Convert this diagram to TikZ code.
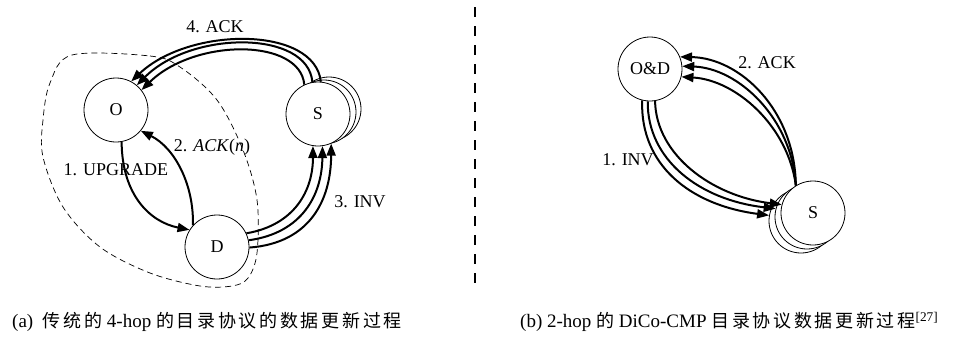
\documentclass[tikz,border=0pt]{standalone}
\usepackage{fontspec}
\setmainfont{Liberation Serif}
\newfontfamily\cjk[LetterSpace=15]{Noto Sans CJK SC}
\usetikzlibrary{arrows.meta}
\newcommand{\cjktext}[1]{{\cjk\fontsize{18}{20}\selectfont #1}}
\begin{document}
\begin{tikzpicture}[x=1pt,y=-1pt,
  state/.style={circle,draw,line width=0.8pt,fill=white,minimum size=64pt,inner sep=0pt,font=\fontsize{18}{20}\selectfont},
  ghost/.style={circle,draw,line width=0.8pt,fill=white,minimum size=64pt,inner sep=0pt},
  msg/.style={line width=2pt,-{Triangle[length=12pt,width=9pt]}},
  lbl/.style={inner sep=0pt,font=\fontsize{18}{20}\selectfont},
  captext/.style={inner sep=0pt,anchor=west,font=\fontsize{19}{21}\selectfont}]
\useasboundingbox (0,0) rectangle (967,343);
% ---------- left panel ----------
\draw[dashed,line width=0.7pt,dash pattern=on 6pt off 4pt] plot[smooth cycle,tension=0.55] coordinates
  {(72,55) (150,56) (180,67) (217,100) (243,150) (257,200) (257,253) (248,278) (232,286) (200,286) (150,273) (100,247) (63,207) (43,157) (43,120) (50,83)};
\node[ghost] (Sc) at (329,109) {};
\node[ghost] (Sb) at (324,112) {};
\node[state] (S) at (318,114) {S};
\node[state] (O) at (116,110) {O};
\node[state] (D) at (217,247) {D};
% 4. ACK
\draw[msg] (S.85) .. controls (315,26) and (190,26) .. (O.62);
\draw[msg] (S.100) .. controls (308,30) and (192,30) .. (O.50);
\draw[msg] (S.115) .. controls (300,38) and (195,38) .. (O.38);
% 1. UPGRADE
\draw[msg] (O.-80) .. controls (122,195) and (150,222) .. (D.148);
% 2. ACK(n)
\draw[msg] (D.138) .. controls (194,185) and (175,148) .. (O.-40);
% 3. INV
\draw[msg] (D.25) .. controls (295,225) and (313,190) .. (S.-99);
\draw[msg] (D.12) .. controls (302,233) and (322,195) .. (S.-82);
\draw[msg] (D.-1) .. controls (310,243) and (331,200) .. (S.-66);
\node[lbl] (l4) at (215,27) {4. ACK};
\node[lbl] (l1) at (116,170) {1. UPGRADE};
\node[lbl] (l2) at (212,147) {2. \textit{ACK}(\textit{n})};
\node[lbl] (l3) at (360,202) {3. INV};
% separator
\coordinate (sepT) at (475,7);
\coordinate (sepB) at (475,288);
\draw[line width=1.4pt,dash pattern=on 10pt off 9pt] (sepT) -- (sepB);
% ---------- right panel ----------
\node[ghost] (S2c) at (801,221) {};
\node[ghost] (S2b) at (807,217) {};
\node[state] (S2) at (813,213) {S};
\node[state] (OD) at (650,69) {O\&D};
% 1. INV
\draw[msg] (OD.-104) .. controls (640,165) and (690,205) .. (S2c.170);
\draw[msg] (OD.-94) .. controls (647,160) and (700,200) .. (S2b.165);
\draw[msg] (OD.-81) .. controls (656,155) and (712,196) .. (S2.165);
% 2. ACK
\draw[msg] (S2.122) .. controls (795,110) and (740,58) .. (OD.22);
\draw[msg] (S2.122) .. controls (792,118) and (738,68) .. (OD.5);
\draw[msg] (S2.122) .. controls (788,126) and (736,80) .. (OD.-14);
\node[lbl] (r1) at (628,160) {1. INV};
\node[lbl] (r2) at (767,63) {2. ACK};
% captions
\node[captext] (capa) at (12,322) {(a)\enspace\cjktext{传统的} 4-hop \cjktext{的目录协议的数据更新过程}};
\node[captext] (capb) at (520,322) {(b) 2-hop \cjktext{的} DiCo-CMP \cjktext{目录协议数据更新过程}\textsuperscript{[27]}};
\end{tikzpicture}
\end{document}
